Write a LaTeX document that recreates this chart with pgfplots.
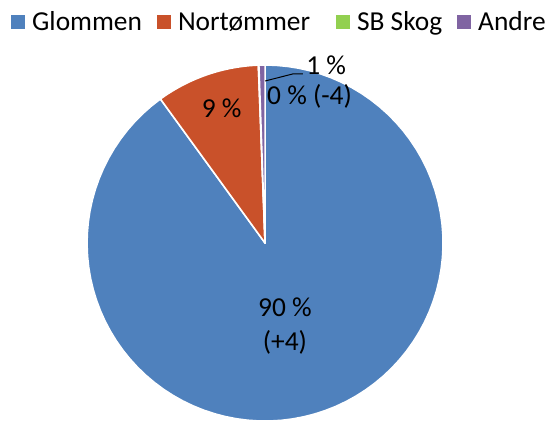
\documentclass[border=0pt]{standalone}
\usepackage{pgfplots}
\pgfplotsset{compat=1.18}
\usepackage{fontspec}
\setmainfont{Carlito}
\definecolor{cGl}{HTML}{4F81BD}
\definecolor{cNo}{HTML}{C9512A}
\definecolor{cSB}{HTML}{92D050}
\definecolor{cAn}{HTML}{8064A2}
% shares in percent, clockwise from 12 o'clock
\def\vGl{90.0}
\def\vNo{9.4}
\def\vSB{0.05}
\def\vAn{0.55}
\newcommand{\slice}[3]{%
  \addplot[fill=#3, draw=white, line width=1.6pt, line join=round, domain=#1:#2, samples=90, variable=\t, forget plot]
    ({cos(90-3.6*\t)},{sin(90-3.6*\t)}) -- (axis cs:0,0) -- cycle;}
\newcommand{\lf}{\fontsize{27.5}{33}\selectfont}
\begin{document}
\begin{tikzpicture}
\begin{axis}[
  scale only axis, width=547bp, height=425bp,
  xmin=-1.489, xmax=1.584, ymin=-1.022, ymax=1.365,
  hide axis, clip=false,
  legend columns=4,
  legend image code/.code={\path[#1, draw=none] (0bp,-7bp) rectangle (14bp,7bp);},
  legend style={at={(rel axis cs:0.0201,0.948)}, anchor=west, draw=none, fill=none,
    font=\lf, column sep=7bp, inner sep=0pt,
    nodes={inner xsep=0pt, inner ysep=1pt},
    /tikz/every even column/.append style={column sep=15bp}},
  legend cell align=left,
]
\path (rel axis cs:0,0) rectangle (rel axis cs:1,1);
\pgfmathsetmacro{\aA}{0}
\pgfmathsetmacro{\aB}{\vGl}
\pgfmathsetmacro{\aC}{\vGl+\vNo}
\pgfmathsetmacro{\aD}{\vGl+\vNo+\vSB}
\slice{\aA}{\aB}{cGl}
\slice{\aB}{\aC}{cNo}
\slice{\aC}{\aD}{cSB}
\slice{\aD}{100}{cAn}
\addlegendimage{fill=cGl}
\addlegendentry{Glommen}
\addlegendimage{fill=cNo}
\addlegendentry{Nortømmer\kern11bp}
\addlegendimage{fill=cSB}
\addlegendentry{SB Skog}
\addlegendimage{fill=cAn}
\addlegendentry{Andre}
\draw[black, line width=1pt] (axis cs:0,0.91) -- (axis cs:0.157,0.95) -- (axis cs:0.213,0.95);
\node[font=\lf] at (axis cs:0.343,0.997) {1 \%};
\node[font=\lf] at (axis cs:0.25,0.823) {0 \% (-4)};
\node[font=\lf] at (axis cs:-0.244,0.758) {9 \%};
\node[font=\lf, align=center] at (axis cs:0.112,-0.466) {90 \%\\[1pt](+4)};
\end{axis}
\end{tikzpicture}
\end{document}
